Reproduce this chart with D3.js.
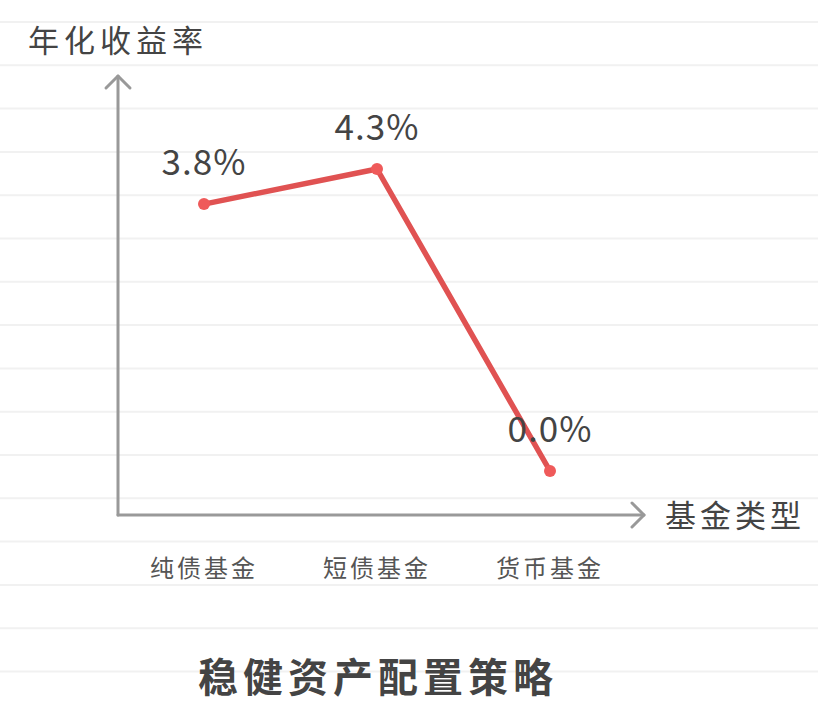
<!DOCTYPE html>
<html>
<head>
<meta charset="utf-8">
<script src="https://cdn.jsdelivr.net/npm/d3@7"></script>
<style>
  body { margin: 0; background: #fff; }
  text { font-family: "Noto Sans CJK SC", sans-serif; }
</style>
</head>
<body>
<svg id="chart" width="818" height="710"></svg>
<script>
// data
let categories = ["纯债基金", "短债基金", "货币基金"];
let yields = [3.8, 4.3, 0.0];
let yLabels = ["3.8%", "4.3%", "0.0%"];

let svg = d3.select("#chart");
let width = 818;
let height = 710;

// notebook-paper background lines
let paperLines = d3.range(22, height, 43.3);
svg.selectAll(".paper")
  .data(paperLines)
  .enter()
  .append("line")
  .attr("x1", 0)
  .attr("x2", width)
  .attr("y1", d => d)
  .attr("y2", d => d)
  .attr("stroke", "#f1f1f1")
  .attr("stroke-width", 2);

// scales
let xScale = d3.scalePoint()
  .domain(categories)
  .range([204, 550]);

let yScale = d3.scaleLinear()
  .domain([0, 4.3])
  .range([471, 169]);

let originX = 118;
let originY = 515;
let axisColor = "#999";

// axes (hand drawn arrows)
let axes = svg.append("g")
  .attr("stroke", axisColor)
  .attr("stroke-width", 3)
  .attr("fill", "none")
  .attr("stroke-linecap", "round")
  .attr("stroke-linejoin", "round");

axes.append("path").attr("d", `M${originX},${originY} L${originX},76`);
axes.append("path").attr("d", `M${originX - 12},88 L${originX},76 L${originX + 12},88`);
axes.append("path").attr("d", `M${originX},${originY} L644,${originY}`);
axes.append("path").attr("d", `M632,${originY - 12} L644,${originY} L632,${originY + 12}`);

// axis titles
svg.append("text")
  .attr("x", originX)
  .attr("y", 52)
  .attr("text-anchor", "middle")
  .attr("font-size", 31)
  .attr("letter-spacing", 5)
  .attr("fill", "#444")
  .text("年化收益率");

svg.append("text")
  .attr("x", 665)
  .attr("y", 527)
  .attr("font-size", 31)
  .attr("letter-spacing", 4)
  .attr("fill", "#444")
  .text("基金类型");

// category labels
svg.selectAll(".cat")
  .data(categories)
  .enter()
  .append("text")
  .attr("x", d => xScale(d))
  .attr("y", 577)
  .attr("text-anchor", "middle")
  .attr("font-size", 24)
  .attr("letter-spacing", 3)
  .attr("fill", "#555")
  .text(d => d);

// line
let points = categories.map((c, i) => [xScale(c), yScale(yields[i])]);

svg.append("path")
  .datum(points)
  .attr("d", d3.line())
  .attr("fill", "none")
  .attr("stroke", "#e05252")
  .attr("stroke-width", 5.5)
  .attr("stroke-linejoin", "round");

svg.selectAll(".dot")
  .data(points)
  .enter()
  .append("circle")
  .attr("cx", d => d[0])
  .attr("cy", d => d[1])
  .attr("r", 6)
  .attr("fill", "#ef5a5a");

// value labels
svg.selectAll(".val")
  .data(points)
  .enter()
  .append("text")
  .attr("x", d => d[0])
  .attr("y", d => d[1] - 29)
  .attr("text-anchor", "middle")
  .attr("font-family", "Lato, sans-serif")
  .attr("font-size", 35)
  .attr("letter-spacing", 1)
  .attr("fill", "#444")
  .text((d, i) => yLabels[i]);

// title
svg.append("text")
  .attr("x", 378)
  .attr("y", 692)
  .attr("text-anchor", "middle")
  .attr("font-size", 40)
  .attr("font-weight", "bold")
  .attr("letter-spacing", 5)
  .attr("fill", "#444")
  .text("稳健资产配置策略");
</script>
</body>
</html>
